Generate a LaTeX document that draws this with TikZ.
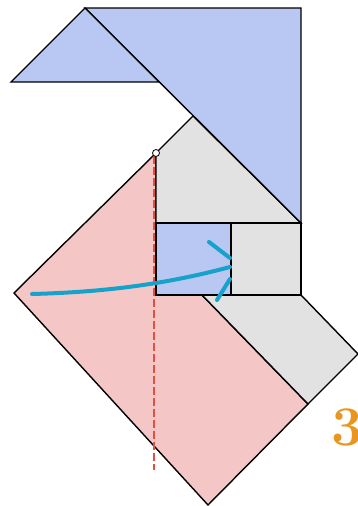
\documentclass[tikz,border=0pt]{standalone}
\usetikzlibrary{calc}
\definecolor{tanblue}{RGB}{184,200,242}
\definecolor{tangrey}{RGB}{226,226,226}
\definecolor{tanpink}{RGB}{244,198,198}
\definecolor{cutred}{RGB}{226,80,64}
\definecolor{movecyan}{RGB}{22,162,202}
\definecolor{steporange}{RGB}{232,150,32}
\begin{document}
\begin{tikzpicture}[
  x=1pt, y=-1pt,
  piece/.style={draw=black, line width=1.4pt, line join=miter},
  sqpiece/.style={draw=black, line width=1.9pt},
  cutline/.style={draw=cutred, line width=1.8pt, dash pattern=on 8pt off 3pt},
  move/.style={draw=movecyan, line width=4pt, line cap=round},
  pin/.style={circle, draw=black, fill=white, line width=0.8pt, inner sep=0pt, minimum size=7pt},
]
\clip (0,0) rectangle (358,506);
% corner points of the pieces
\coordinate (apex) at (85,8);
\coordinate (topright) at (301,8);
\coordinate (diagend) at (301,223);
\coordinate (wingleft) at (11,82);
\coordinate (wingright) at (159,82);
\coordinate (roof) at (193,116);
\coordinate (hinge) at (156,153);
\coordinate (sqtl) at (156,223);
\coordinate (sqmid) at (231,223);
\coordinate (sqbl) at (156,295);
\coordinate (sqbm) at (231,295);
\coordinate (sqbr) at (301,295);
\coordinate (legtop) at (202,295);
\coordinate (legright) at (358,354);
\coordinate (legbottom) at (308,404);
\coordinate (bottom) at (208,505);
\coordinate (left) at (14,293);
% pink piece
\path[piece, fill=tanpink] (hinge) -- (sqbl) -- (legtop) -- (legbottom) -- (bottom) -- (left) -- cycle;
% grey pieces
\path[piece, fill=tangrey] (legtop) -- (sqbr) -- (legright) -- (legbottom) -- cycle;
\path[piece, fill=tangrey] (hinge) -- (roof) -- (diagend) -- (sqtl) -- cycle;
% blue triangles
\path[piece, fill=tanblue] (apex) -- (topright) -- (diagend) -- cycle;
\path[piece, fill=tanblue] (wingleft) -- (apex) -- (wingright) -- cycle;
% the two small squares
\path[sqpiece, fill=tanblue] (sqtl) rectangle (sqbm);
\path[sqpiece, fill=tangrey] (sqmid) rectangle (sqbr);
% cut line and pivot
\coordinate (cuttop) at (154,156);
\coordinate (cutend) at (154,470);
\draw[cutline] (cuttop) -- (cutend);
\node[pin] (pivot) at (hinge) {};
% move arrow
\coordinate (mvstart) at (32,294);
\coordinate (mvtip) at (230,267);
\coordinate (barbup) at (209,242);
\coordinate (barbupend) at (230,258);
\coordinate (barblow) at (217,300);
\coordinate (barblowend) at (230,279);
\draw[move] (mvstart) .. controls (110,292) and (170,283) .. (mvtip);
\draw[move] (barbup) -- (barbupend);
\draw[move] (barblow) -- (barblowend);
% step number
\node[anchor=base west, inner sep=0pt, text=steporange, font=\fontsize{56}{60}\selectfont\bfseries] (stepnum) at (331,445) {3};
\end{tikzpicture}
\end{document}
